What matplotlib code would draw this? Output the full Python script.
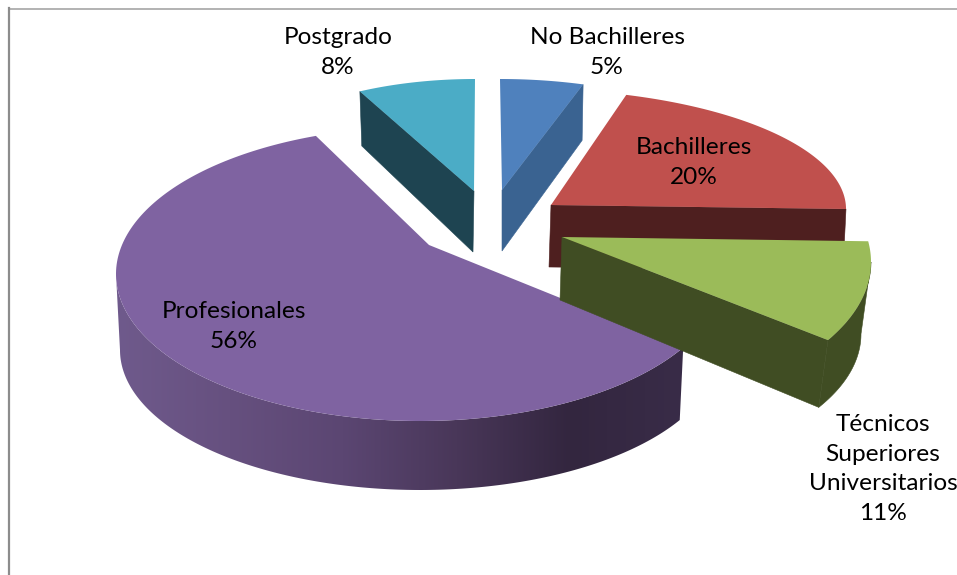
import numpy as np
import matplotlib
matplotlib.use('Agg')
import matplotlib.pyplot as plt
from matplotlib.colors import LinearSegmentedColormap
from matplotlib.patches import Polygon

# chart data
labels = ['No Bachilleres', 'Bachilleres', 'Técnicos\nSuperiores\nUniversitarios', 'Profesionales', 'Postgrado']
values = [5, 20, 11, 56, 8]

# colours of the top face and of the walls
top_colors = ['#4F81BD', '#C0504D', '#9BBB59', '#7F63A1', '#4BACC6']
side_colors = ['#3A6391', '#4E1F1F', '#404D23', '#35283F', '#1E4451']

# faked 3d layout for each slice, all in pixels
# top ellipse and bottom ellipse are (cx, cy, a, b)
top_ell = [(500, 189, 269, 110), (528, 209, 318, 120), (581, 262, 290, 149), (420, 274, 304, 147), (475, 179, 239, 100)]
low_ell = [(499, 245, 269, 110), (525, 270, 318, 120), (576, 334, 285, 140), (420, 350, 300, 140), (475, 233.6, 235, 100)]
apex_top = [(502, 190), (551, 205), (562, 237), (429, 245), (474, 191)]
apex_low = [(502, 251), (549, 267), (560, 300), (429, 300), (473, 252)]
shift = [0, 0, -8, -0.4, 0]      # rotation of the slice in degrees
stretch = [1, 1, 1, 1.091, 1]    # perspective widens the big slice
wall = ['end', 'end', 'end', None, 'start']

label_x = [607, 694, 883, 234, 338]
label_y = [52.5, 162.5, 469, 326.5, 52.5]
font_size = 17.6


def ell_points(ell, t_deg):
    # t is measured clockwise from the top of the pie
    cx, cy, a, b = ell
    t = np.radians(t_deg)
    return np.column_stack([cx + a * np.sin(t), cy - b * np.cos(t)])


fig = plt.figure(figsize=(9.57, 5.75), dpi=100)
ax = fig.add_axes([0, 0, 1, 1])
ax.set_xlim(0, 957)
ax.set_ylim(575, 0)
ax.axis('off')

# frame of the chart area, only top and left show
ax.plot([9, 957], [8.5, 8.5], color='#a6a6a6', lw=1.2, zorder=1)
ax.plot([9, 9], [8, 575], color='#8c8c8c', lw=1.6, zorder=1)

# slice angles from the values
fracs = np.array(values) / np.sum(values)
ends = np.cumsum(fracs) * 360
starts = ends - fracs * 360

# back slices first, the purple and green ones sit in front
order = [4, 0, 1, 3, 2]
for i in order:
    mid = (starts[i] + ends[i]) / 2 + shift[i]
    half = (ends[i] - starts[i]) / 2 * stretch[i]
    t1, t2 = mid - half, mid + half
    tt = np.linspace(t1, t2, 200)
    z = 3 + order.index(i)

    # flat wall along the cut
    if wall[i] is not None:
        t_cut = t2 if wall[i] == 'end' else t1
        p_top = ell_points(top_ell[i], [t_cut])[0]
        p_low = ell_points(low_ell[i], [t_cut])[0]
        pts = [apex_top[i], p_top, p_low, apex_low[i]]
        ax.add_patch(Polygon(pts, closed=True, fc=side_colors[i], ec=side_colors[i], lw=0.4, zorder=z))

    # rim, only the front half of the pie shows it
    t_a, t_b = max(t1, 90), min(t2, 270)
    if t_b > t_a:
        tr = np.linspace(t_a, t_b, 200)
        rim = np.vstack([ell_points(top_ell[i], tr), ell_points(low_ell[i], tr)[::-1]])
        if labels[i] == 'Profesionales':
            # shading runs across the purple rim
            stops = ['#6F5A8C', '#66507F', '#5B4672', '#493759', '#33263F', '#392C48']
            cmap = LinearSegmentedColormap.from_list('rim', stops)
            grad = np.linspace(0, 1, 256).reshape(1, -1)
            im = ax.imshow(grad, cmap=cmap, extent=[116, 684, 500, 270], aspect='auto', zorder=z)
            im.set_clip_path(Polygon(rim, closed=True, transform=ax.transData))
            ax.set_xlim(0, 957)
            ax.set_ylim(575, 0)
        else:
            ax.add_patch(Polygon(rim, closed=True, fc=side_colors[i], ec=side_colors[i], lw=0.4, zorder=z))

    # top face
    face = np.vstack([[apex_top[i]], ell_points(top_ell[i], tt)])
    ax.add_patch(Polygon(face, closed=True, fc=top_colors[i], ec='none', zorder=z + 0.5))

# data labels
for i in range(len(labels)):
    txt = labels[i] + '\n' + str(values[i]) + '%'
    ax.text(label_x[i], label_y[i], txt, ha='center', va='center', fontsize=font_size,
            family='Lato', color='black', linespacing=1.5, zorder=20)

plt.savefig('out.png', dpi=100)
